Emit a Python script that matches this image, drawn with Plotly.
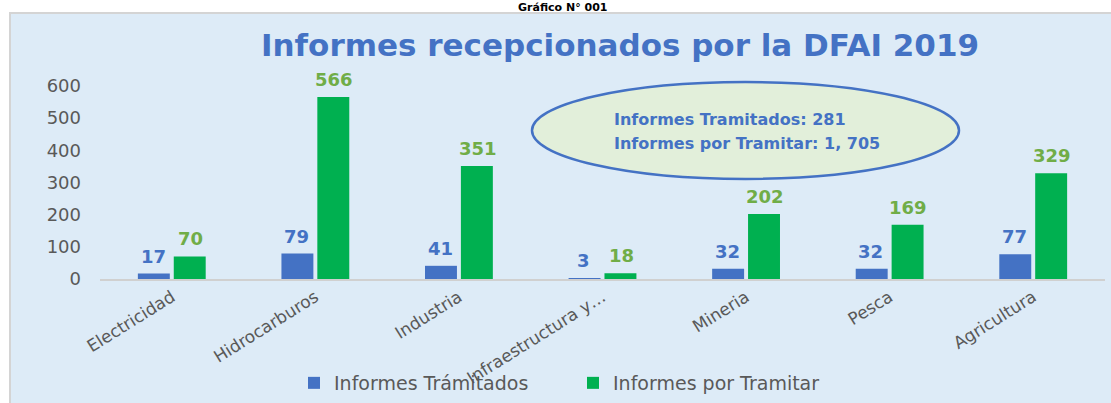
import plotly.graph_objects as go

categories = ["Electricidad", "Hidrocarburos", "Industria", "Infraestructura y Servicios",
              "Mineria", "Pesca", "Agricultura"]
tick_labels = ["Electricidad", "Hidrocarburos", "Industria", "Infraestructura y…",
               "Mineria", "Pesca", "Agricultura"]
tramitados = [17, 79, 41, 3, 32, 32, 77]
por_tramitar = [70, 566, 351, 18, 202, 169, 329]
y_ticks = [0, 100, 200, 300, 400, 500, 600]

BLUE = "#4472C4"
GREEN = "#00B050"
GREEN_LBL = "#70AD47"
GREY = "#595959"
FONT = "DejaVu Sans, Arial, sans-serif"

W, H = 1111, 403
L, R, T, B = 100, 6, 60, 124
plot_w = W - L - R
plot_h = H - T - B
Y_MAX = 680.8


def px_x(p):
    return (p - L) / plot_w


def px_y(p):
    return (H - B - p) / plot_h


x_idx = list(range(len(categories)))

fig = go.Figure()
fig.add_trace(go.Bar(name="Informes Trámitados", x=x_idx, y=tramitados,
                     marker=dict(color=BLUE, line=dict(width=0))))
fig.add_trace(go.Bar(name="Informes por Tramitar", x=x_idx, y=por_tramitar,
                     marker=dict(color=GREEN, line=dict(width=0))))

annotations = []
for i, v in enumerate(tramitados):
    annotations.append(dict(x=i - 0.13, y=v, xref="x", yref="y", text=f"<b>{v}</b>",
                            showarrow=False, yanchor="bottom", yshift=5,
                            font=dict(family=FONT, size=18, color=BLUE)))
for i, v in enumerate(por_tramitar):
    annotations.append(dict(x=i + 0.13, y=v, xref="x", yref="y", text=f"<b>{v}</b>",
                            showarrow=False, yanchor="bottom", yshift=5,
                            font=dict(family=FONT, size=18, color=GREEN_LBL)))

# title
annotations.append(dict(x=px_x(620), y=px_y(45), xref="paper", yref="paper",
                        text="<b>Informes recepcionados por la DFAI 2019</b>",
                        showarrow=False, xanchor="center", yanchor="middle",
                        font=dict(family=FONT, size=31, color=BLUE)))
# heading above the panel
annotations.append(dict(x=px_x(562), y=px_y(-1), xref="paper", yref="paper",
                        text="<b>Gráfico N° 001</b>",
                        showarrow=False, xanchor="center", yanchor="top",
                        font=dict(family=FONT, size=11, color="#000000")))
# ellipse text
annotations.append(dict(x=px_x(612), y=px_y(119), xref="paper", yref="paper",
                        text="<b>Informes Tramitados: 281</b>",
                        showarrow=False, xanchor="left", yanchor="middle",
                        font=dict(family=FONT, size=16, color=BLUE)))
annotations.append(dict(x=px_x(612), y=px_y(143), xref="paper", yref="paper",
                        text="<b>Informes por Tramitar: 1, 705</b>",
                        showarrow=False, xanchor="left", yanchor="middle",
                        font=dict(family=FONT, size=16, color=BLUE)))

shapes = [
    dict(type="rect", xref="paper", yref="paper", layer="below",
         x0=px_x(10), x1=px_x(1120), y0=px_y(410), y1=px_y(13),
         fillcolor="#DDEBF7", line=dict(color="#D4D4D4", width=2)),
    dict(type="circle", xref="paper", yref="paper", layer="above",
         x0=px_x(532), x1=px_x(959), y0=px_y(179), y1=px_y(82),
         fillcolor="#E2EFDA", line=dict(color=BLUE, width=2.5)),
]

fig.update_layout(
    width=W, height=H,
    margin=dict(l=L, r=R, t=T, b=B, pad=0, autoexpand=False),
    paper_bgcolor="white", plot_bgcolor="rgba(0,0,0,0)",
    barmode="group", bargap=0.5, bargroupgap=0.11,
    showlegend=True,
    legend=dict(orientation="h", x=px_x(294), y=px_y(383), xanchor="left", yanchor="middle",
                bgcolor="rgba(0,0,0,0)", font=dict(family=FONT, size=19, color=GREY),
                itemwidth=30, tracegroupgap=0, entrywidth=234, entrywidthmode="pixels"),
    xaxis=dict(range=[-0.5, 6.5], tickmode="array", tickvals=x_idx, ticktext=tick_labels,
               tickangle=-32, showgrid=False, zeroline=False, showline=True,
               linecolor="#D0D0D0", linewidth=1.5, ticks="", automargin=False,
               tickfont=dict(family=FONT, size=17, color=GREY)),
    yaxis=dict(range=[0, Y_MAX], tickmode="array", tickvals=y_ticks,
               showgrid=False, zeroline=False, showline=False, ticks="",
               ticklabelstandoff=18, automargin=False,
               tickfont=dict(family=FONT, size=18, color=GREY)),
    annotations=annotations,
    shapes=shapes,
)

fig.write_html("out.html", config={"displayModeBar": False},
               post_script="document.body.style.margin='0';")
